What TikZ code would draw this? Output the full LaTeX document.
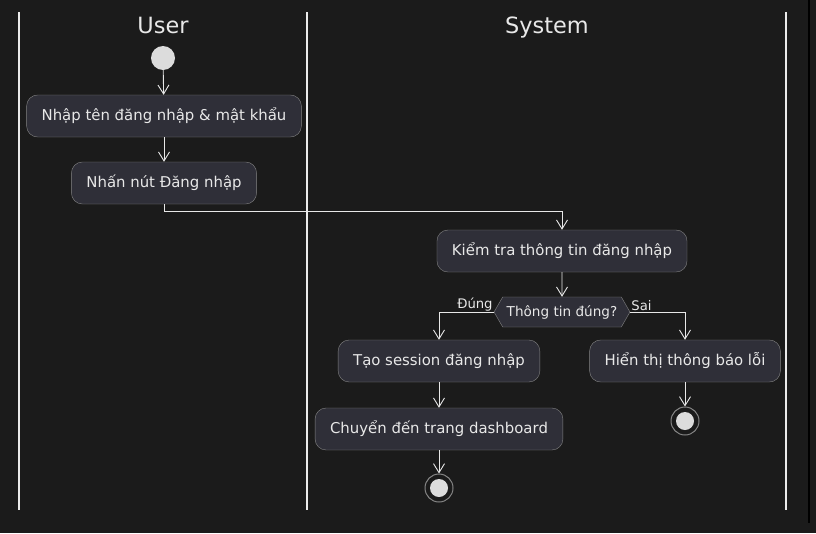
\documentclass[tikz,border=0pt]{standalone}
\usepackage{fontspec}
\setmainfont{DejaVu Sans}
\usetikzlibrary{arrows.meta,shapes.geometric,shapes.symbols}
\definecolor{bgdark}{HTML}{1B1B1B}
\definecolor{boxfill}{HTML}{2F2F38}
\definecolor{boxline}{HTML}{858585}
\definecolor{txtlight}{HTML}{E8E8E8}
\definecolor{dotfill}{HTML}{DCDCDC}

\tikzset{
  act/.style={draw=boxline, fill=boxfill, rounded corners=11pt, minimum height=42pt,
    inner xsep=15pt, text=txtlight, font=\fontsize{14.9}{17}\selectfont},
  choice/.style={draw=boxline, fill=boxfill, signal, signal to=east and west,
    signal pointer angle=120, minimum height=30pt, inner xsep=4pt,
    text=txtlight, font=\fontsize{13.6}{15}\selectfont},
  flow/.style={draw=txtlight, line width=0.9pt, -{Straight Barb[length=9pt,width=11pt]}},
  lane/.style={draw=txtlight!85, line width=1.3pt},
  lanetitle/.style={text=txtlight, anchor=base, font=\fontsize{22.4}{25}\selectfont},
  guard/.style={text=txtlight, font=\fontsize{13.2}{15}\selectfont, inner sep=1pt}
}

\begin{document}
\begin{tikzpicture}[x=1pt,y=-1pt]
  \fill[bgdark] (0,0) rectangle (816,533);
  \useasboundingbox (0,0) rectangle (816,533);
  \draw[black, line width=1.2pt] (809,0) -- (809,523);

  % swimlanes
  \draw[lane] (19,12) -- (19,510);
  \draw[lane] (307,12) -- (307,510);
  \draw[lane] (786,12) -- (786,510);
  \node[lanetitle] (userlane) at (163,33) {User};
  \node[lanetitle] (syslane) at (547,33) {System};

  % start
  \node[circle, fill=dotfill, minimum size=24pt, inner sep=0pt] (start) at (163,58) {};

  \node[act] (nhap) at (164,116) {Nhập tên đăng nhập \& mật khẩu};
  \node[act] (nhan) at (164,183) {Nhấn nút Đăng nhập};
  \node[act] (kiemtra) at (562,251) {Kiểm tra thông tin đăng nhập};
  \node[choice] (check) at (562,312) {Thông tin đúng?};
  \node[act] (taosession) at (439,361) {Tạo session đăng nhập};
  \node[act] (baoloi) at (685,361) {Hiển thị thông báo lỗi};
  \node[act] (chuyen) at (439,429) {Chuyển đến trang dashboard};

  % stops
  \node[circle, draw=boxline, line width=1pt, fill=bgdark, minimum size=28pt, inner sep=0pt] (stopA) at (439,488) {};
  \fill[dotfill] (stopA.center) circle [radius=9pt];
  \node[circle, draw=boxline, line width=1pt, fill=bgdark, minimum size=28pt, inner sep=0pt] (stopB) at (685,421) {};
  \fill[dotfill] (stopB.center) circle [radius=9pt];

  \draw[flow] (start) -- (nhap);
  \draw[flow] (nhap) -- (nhan);
  \draw[flow] (nhan.south) -- ++(0,7) -| (kiemtra.north);
  \draw[flow] (kiemtra) -- (check);
  \draw[flow] (check.west) -| (taosession.north);
  \draw[flow] (check.east) -| (baoloi.north);
  \draw[flow] (taosession) -- (chuyen);
  \draw[flow] (chuyen) -- (stopA);
  \draw[flow] (baoloi) -- (stopB);

  \node[guard, anchor=south east] (dung) at (check.west) {Đúng};
  \node[guard, anchor=south west] (sai) at (check.east) {Sai};
\end{tikzpicture}
\end{document}
